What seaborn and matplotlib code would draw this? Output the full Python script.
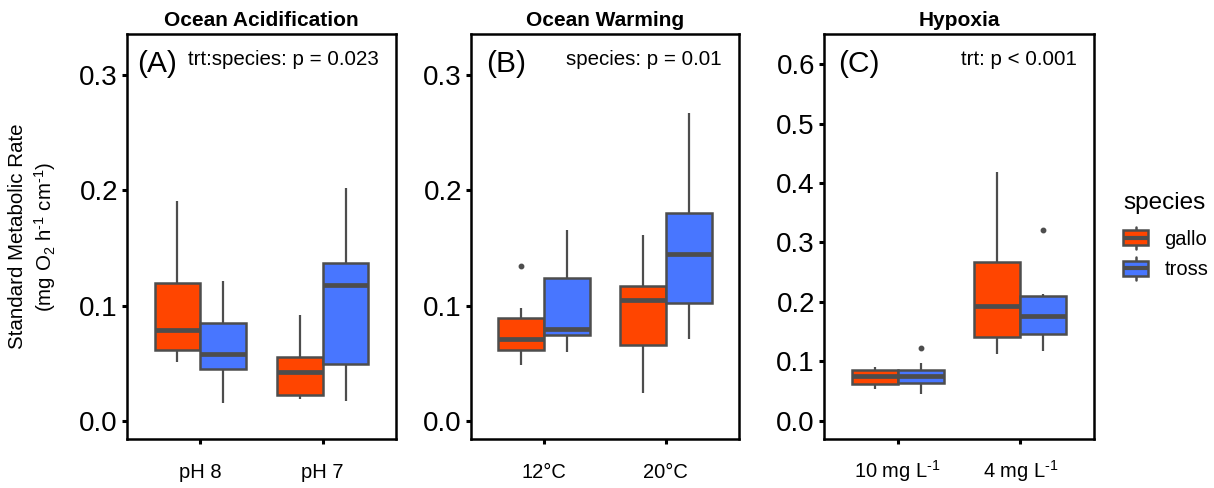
import numpy as np
import pandas as pd
import matplotlib
matplotlib.use("Agg")
import matplotlib.pyplot as plt
import seaborn as sns
from matplotlib.legend_handler import HandlerBase
from matplotlib.patches import Rectangle, Patch
from matplotlib.lines import Line2D

# ---------------- data ----------------
species = ["gallo", "tross"]
species_colors = ["#FF4500", "#4876FF"]

# Ocean acidification
oa_trt = ["pH 8", "pH 7"]
oa_gallo_ph8 = [0.051, 0.056, 0.061, 0.070, 0.079, 0.098, 0.120, 0.150, 0.191]
oa_tross_ph8 = [0.015, 0.032, 0.0445, 0.052, 0.058, 0.070, 0.085, 0.100, 0.121]
oa_gallo_ph7 = [0.019, 0.021, 0.0224, 0.033, 0.0425, 0.049, 0.055, 0.070, 0.092]
oa_tross_ph7 = [0.017, 0.030, 0.049, 0.095, 0.118, 0.128, 0.137, 0.170, 0.202]

# Ocean warming
ow_trt = ["12°C", "20°C"]
ow_gallo_12 = [0.0486, 0.055, 0.061, 0.066, 0.0707, 0.080, 0.089, 0.098, 0.134]
ow_tross_12 = [0.060, 0.068, 0.074, 0.077, 0.080, 0.100, 0.124, 0.145, 0.166]
ow_gallo_20 = [0.024, 0.045, 0.0655, 0.090, 0.105, 0.111, 0.117, 0.140, 0.161]
ow_tross_20 = [0.071, 0.088, 0.1026, 0.125, 0.145, 0.160, 0.180, 0.220, 0.267]

# Hypoxia
hy_trt = ["10 mg L$^{\\text{-1}}$", "4 mg L$^{\\text{-1}}$"]
hy_gallo_10 = [0.053, 0.057, 0.061, 0.069, 0.0756, 0.081, 0.085, 0.088, 0.0896]
hy_tross_10 = [0.044, 0.055, 0.0627, 0.070, 0.0756, 0.080, 0.085, 0.0975, 0.122]
hy_gallo_4 = [0.112, 0.125, 0.140, 0.170, 0.193, 0.230, 0.267, 0.340, 0.418]
hy_tross_4 = [0.1176, 0.132, 0.145, 0.160, 0.176, 0.195, 0.2095, 0.213, 0.3216]

panel_titles = ["Ocean Acidification", "Ocean Warming", "Hypoxia"]
panel_letters = ["(A)", "(B)", "(C)"]
panel_stats = ["trt:species: p = 0.023", "species: p = 0.01", "trt: p < 0.001"]
ab_ticks = [0.0, 0.1, 0.2, 0.3]
c_ticks = [0.0, 0.1, 0.2, 0.3, 0.4, 0.5, 0.6]


def make_df(trts, groups):
    rows = []
    for t, per_species in zip(trts, groups):
        for sp, vals in zip(species, per_species):
            for v in vals:
                rows.append({"trt": t, "species": sp, "smr": v})
    return pd.DataFrame(rows)


df_oa = make_df(oa_trt, [[oa_gallo_ph8, oa_tross_ph8], [oa_gallo_ph7, oa_tross_ph7]])
df_ow = make_df(ow_trt, [[ow_gallo_12, ow_tross_12], [ow_gallo_20, ow_tross_20]])
df_hy = make_df(hy_trt, [[hy_gallo_10, hy_tross_10], [hy_gallo_4, hy_tross_4]])

# ---------------- style ----------------
sns.set_theme(style="white")
plt.rcParams["font.family"] = ["Liberation Sans", "DejaVu Sans"]
plt.rcParams["mathtext.fontset"] = "custom"
plt.rcParams["mathtext.rm"] = "Liberation Sans"
plt.rcParams["mathtext.it"] = "Liberation Sans:italic"
plt.rcParams["mathtext.bf"] = "Liberation Sans:bold"
plt.rcParams["text.color"] = "black"
plt.rcParams["axes.labelcolor"] = "black"
plt.rcParams["axes.titlecolor"] = "black"

LINE = "#4D4D4D"
W, H = 1214, 488
fig = plt.figure(figsize=(W / 100, H / 100), dpi=100)

frames = [(127, 396), (471, 739), (824, 1094)]
top_px, bot_px = 34, 439

panels = [
    (df_oa, oa_trt, ab_ticks, (-0.016, 0.336), 0.036, 14),
    (df_ow, ow_trt, ab_ticks, (-0.016, 0.336), 0.056, 14),
    (df_hy, hy_trt, c_ticks, (-0.031, 0.651), 0.051, 10.5),
]

palette = dict(zip(species, species_colors))
axes = []
for i, ((x0, x1), (df, trts, ticks, ylim, letter_x, xpad)) in enumerate(zip(frames, panels)):
    ax = fig.add_axes([x0 / W, 1 - bot_px / H, (x1 - x0) / W, (bot_px - top_px) / H])
    axes.append(ax)
    sns.boxplot(
        data=df, x="trt", y="smr", hue="species", order=trts, hue_order=species,
        palette=palette, width=0.75, gap=0, saturation=1, linecolor=LINE,
        linewidth=1.8, showcaps=False, whis=1.5, fliersize=3.2,
        flierprops=dict(marker="o", markerfacecolor=LINE, markeredgecolor=LINE),
        medianprops=dict(linewidth=3.4, color=LINE, solid_capstyle="butt"),
        whiskerprops=dict(linewidth=1.6, color=LINE),
        legend=False, ax=ax,
    )
    ax.set_xlim(-0.6, 1.6)
    ax.set_ylim(*ylim)
    ax.set_yticks(ticks)
    ax.set_yticklabels([f"{t:.1f}" for t in ticks])
    ax.set_xlabel("")
    ax.set_ylabel("")
    for sp in ax.spines.values():
        sp.set_visible(True)
        sp.set_color("black")
        sp.set_linewidth(1.8)
    ax.tick_params(axis="y", which="major", left=True, length=3.5, width=2.2,
                   color="black", labelsize=20, labelcolor="black", pad=3)
    ax.tick_params(axis="x", which="major", bottom=True, length=3.5, width=2.2,
                   color="black", labelsize=14.5, labelcolor="black", pad=xpad)
    ax.set_title(panel_titles[i], fontsize=15, fontweight="bold", pad=6, color="black")
    ax.text(letter_x, 0.906, panel_letters[i], transform=ax.transAxes,
            fontsize=21.5, ha="left", va="baseline", color="black")
    ax.text(0.935, 0.923, panel_stats[i], transform=ax.transAxes,
            fontsize=14.8, ha="right", va="baseline", color="black")

axes[0].set_ylabel("Standard Metabolic Rate\n(mg O$_\\mathregular{2}$ h$^{\\text{-1}}$ cm$^{\\text{-1}}$)",
                   fontsize=14.8, linespacing=1.25, color="black")
axes[0].yaxis.set_label_coords((58 - 127) / (396 - 127), 0.5)


# ---------------- legend ----------------
class BoxKeyHandler(HandlerBase):
    def create_artists(self, legend, orig_handle, xdescent, ydescent, width, height, fontsize, trans):
        fc = orig_handle.get_facecolor()
        x0 = -xdescent
        yb = -ydescent
        bh = height * 0.68
        y0 = yb + (height - bh) / 2
        cx = x0 + width / 2
        w1 = Line2D([cx, cx], [yb, y0], color=LINE, lw=1.8, transform=trans)
        w2 = Line2D([cx, cx], [y0 + bh, yb + height], color=LINE, lw=1.8, transform=trans)
        rect = Rectangle((x0, y0), width, bh, facecolor=fc, edgecolor=LINE, lw=1.8, transform=trans)
        med = Line2D([x0, x0 + width], [y0 + bh / 2] * 2, color=LINE, lw=3.0,
                     solid_capstyle="butt", transform=trans)
        return [w1, w2, rect, med]


handles = [Patch(facecolor=c, edgecolor=LINE) for c in species_colors]
leg = fig.legend(handles, species, title="species", loc="upper left",
                 bbox_to_anchor=(1123 / W, 1 - 192 / H), frameon=False,
                 fontsize=14.5, title_fontsize=17.5, handlelength=1.25, handleheight=1.35,
                 handletextpad=0.8, labelspacing=0.4, borderpad=0, borderaxespad=0,
                 alignment="left", handler_map={Patch: BoxKeyHandler()})
leg._legend_box.sep = 9

fig.savefig("out.png", dpi=100)
